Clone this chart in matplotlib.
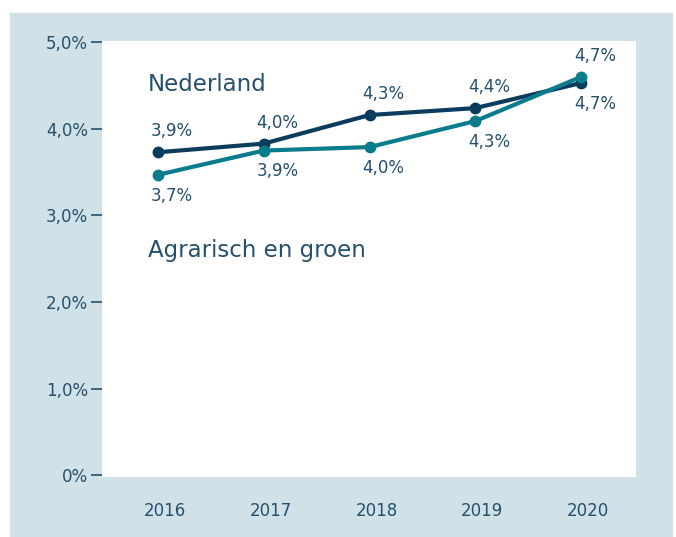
import matplotlib.pyplot as plt
from matplotlib.patches import Rectangle
from matplotlib.transforms import ScaledTranslation

years = [2016, 2017, 2018, 2019, 2020]
nederland = [3.73, 3.83, 4.16, 4.24, 4.53]
agrarisch = [3.47, 3.75, 3.79, 4.09, 4.60]
nederland_labels = ['3,9%', '4,0%', '4,3%', '4,4%', '4,7%']
agrarisch_labels = ['3,7%', '3,9%', '4,0%', '4,3%', '4,7%']
y_ticks = [0, 1, 2, 3, 4, 5]
y_tick_labels = ['0%', '1,0%', '2,0%', '3,0%', '4,0%', '5,0%']

navy = '#0b3c5d'
teal = '#0b7c8c'
text_col = '#24506e'
panel = '#d0e1e7'

fig = plt.figure(figsize=(6.76, 5.37), dpi=100)
fig.patches.append(Rectangle((10 / 676, 0), 662 / 676, 524 / 537,
                             transform=fig.transFigure, color=panel, zorder=-10))

ax = fig.add_axes([102 / 676, 1 - 477 / 537, 534 / 676, 436 / 537])
ax.set_facecolor('white')

ax.plot(years, nederland, color=navy, lw=3, marker='o', ms=7.5, zorder=3)
ax.plot(years, agrarisch, color=teal, lw=3, marker='o', ms=7.5, zorder=4)

# labels go above the higher line, below the lower one
for i, yr in enumerate(years):
    for vals, labs, other in [(nederland, nederland_labels, agrarisch),
                              (agrarisch, agrarisch_labels, nederland)]:
        dy = 15 if vals[i] >= other[i] else -15
        ax.annotate(labs[i], (yr, vals[i]), xytext=(10, dy),
                    textcoords='offset points', ha='center', va='center',
                    fontsize=12, color=text_col)

ax.text(0.086, 0.885, 'Nederland', transform=ax.transAxes, fontsize=16.5,
        color=text_col, va='baseline')
ax.text(0.086, 0.505, 'Agrarisch en groen', transform=ax.transAxes,
        fontsize=16.5, color=text_col, va='baseline')

ax.set_xlim(2015.47, 2020.52)
ax.set_ylim(-0.02, 5.015)
ax.set_xticks(years)
ax.set_xticklabels([str(y) for y in years])
ax.set_yticks(y_ticks)
ax.set_yticklabels(y_tick_labels)

for s in ax.spines.values():
    s.set_visible(False)

ax.tick_params(axis='x', length=0, pad=18, labelsize=12, labelcolor=text_col)
ax.tick_params(axis='y', length=8, width=1.2, color=text_col, pad=2,
               labelsize=12, labelcolor=text_col)
for lab in ax.get_xticklabels():
    lab.set_transform(lab.get_transform() + ScaledTranslation(0.07, 0, fig.dpi_scale_trans))

fig.savefig('out.png', dpi=100, facecolor='white')
